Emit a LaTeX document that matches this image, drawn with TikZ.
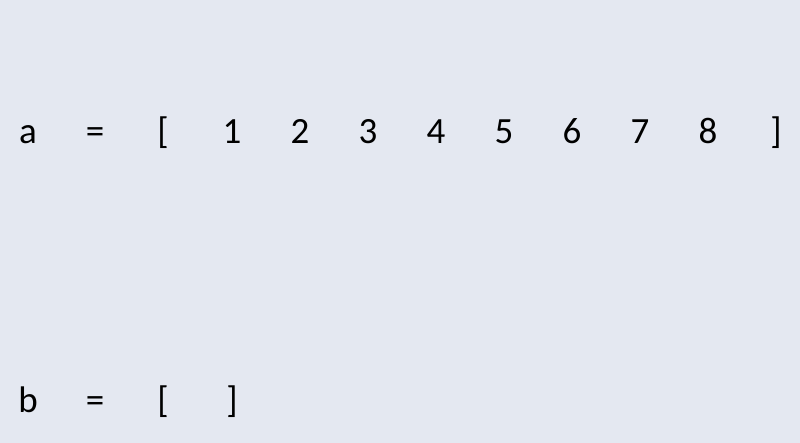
\documentclass[tikz,border=0pt]{standalone}
\usepackage{fontspec}
\setmainfont{Carlito}
\usetikzlibrary{positioning}

\begin{document}
\begin{tikzpicture}[x=1pt,y=1pt,
  cell/.style={anchor=base,inner sep=0pt,font=\fontsize{37}{42}\selectfont}]
\definecolor{paper}{RGB}{228,232,241}
% Background fixes the page size
\fill[paper] (0,0) rectangle (800,443);
\useasboundingbox (0,0) rectangle (800,443);
% First list
\node[cell] (aname) at (28,299) {a};
\node[cell] (aeq) at (95,299) {=};
\node[cell] (aopen) at (163,299) {[};
\foreach \v [count=\i] in {1,...,8}
  \node[cell] (a\i) at (164+68*\i,299) {\v};
\node[cell] (aclose) at (776,299) {]};
% Second list, still empty
\node[cell] (bname) at (28,30) {b};
\node[cell] (beq) at (95,30) {=};
\node[cell] (bopen) at (163,30) {[};
\node[cell] (bclose) at (232,30) {]};
\end{tikzpicture}
\end{document}
